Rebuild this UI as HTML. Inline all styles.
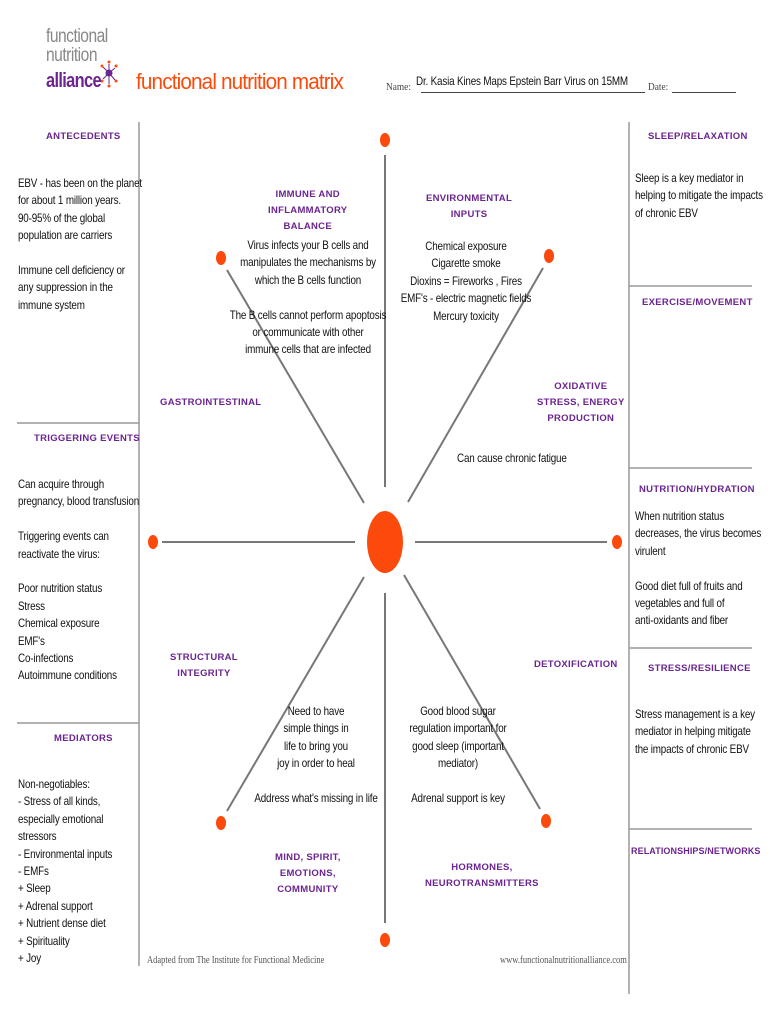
<!DOCTYPE html>
<html><head><meta charset="utf-8"><style>
body{margin:0;width:770px;height:1024px;background:#fff;position:relative;overflow:hidden;font-family:"Liberation Sans",sans-serif;}
.t{position:absolute;font-size:12px;line-height:17.4px;color:#111;white-space:nowrap;letter-spacing:-0.2px;transform:scaleX(0.82);transform-origin:0 0}
.c{text-align:center;transform-origin:50% 0}
.h{position:absolute;color:#6b2490;font-family:"Liberation Sans",sans-serif;font-weight:bold;font-size:9.5px;letter-spacing:0.3px;line-height:16px;white-space:nowrap;text-align:center}
svg{position:absolute;left:0;top:0}
.s{position:absolute;font-family:'Liberation Serif',serif;font-size:11px;color:#444;white-space:nowrap;transform:scaleX(0.85);transform-origin:0 0}
</style></head><body>
<svg width="770" height="1024">
<g stroke="#999" stroke-width="1.5">
<line x1="139" y1="122" x2="139" y2="966"/>
<line x1="629" y1="122" x2="629" y2="994"/>
<line x1="17" y1="423" x2="139" y2="423"/>
<line x1="17" y1="723" x2="139" y2="723"/>
<line x1="629" y1="286" x2="752" y2="286"/>
<line x1="629" y1="468" x2="752" y2="468"/>
<line x1="629" y1="648" x2="752" y2="648"/>
<line x1="629" y1="829" x2="752" y2="829"/>
</g>
<g stroke="#777" stroke-width="2">
<line x1="385" y1="155" x2="385" y2="487"/>
<line x1="385" y1="593" x2="385" y2="923"/>
<line x1="162" y1="542" x2="355" y2="542"/>
<line x1="415" y1="542" x2="607" y2="542"/>
<line x1="227" y1="270" x2="364" y2="503"/>
<line x1="543" y1="268" x2="408" y2="502"/>
<line x1="364" y1="577" x2="227" y2="811"/>
<line x1="404" y1="575" x2="540" y2="809"/>
</g>
<g fill="#fc4a0c">
<ellipse cx="385" cy="542" rx="18" ry="31"/>
<ellipse cx="385" cy="140" rx="5" ry="7"/>
<ellipse cx="385" cy="940" rx="5" ry="7"/>
<ellipse cx="153" cy="542" rx="5" ry="7"/>
<ellipse cx="617" cy="542" rx="5" ry="7"/>
<ellipse cx="221" cy="258" rx="5" ry="7"/>
<ellipse cx="549" cy="256" rx="5" ry="7"/>
<ellipse cx="221" cy="823" rx="5" ry="7"/>
<ellipse cx="546" cy="821" rx="5" ry="7"/>
</g>
<g stroke="#6b2490" stroke-width="1"><line x1="109" y1="73" x2="103" y2="67"/><line x1="109" y1="73" x2="115" y2="68"/><line x1="109" y1="73" x2="103" y2="79"/><line x1="109" y1="73" x2="115" y2="80"/><line x1="109" y1="73" x2="109" y2="64"/><line x1="109" y1="73" x2="109" y2="84"/></g>
<g fill="#fc4a0c"><circle cx="109" cy="62" r="1.5"/><circle cx="116" cy="66" r="1.5"/><circle cx="102" cy="66" r="1.5"/><circle cx="116" cy="81" r="1.5"/><circle cx="102" cy="81" r="1.5"/><circle cx="109" cy="86" r="1.5"/></g>
<circle cx="109" cy="73" r="3.5" fill="#6b2490"/>
</svg>
<div style="position:absolute;left:46px;top:27px;font-size:19px;line-height:19px;color:#888;letter-spacing:-0.6px;transform:scaleX(0.82);transform-origin:0 0">functional<br>nutrition</div>
<div style="position:absolute;left:46px;top:70px;font-size:20px;font-weight:bold;color:#6b2490;letter-spacing:-0.8px;transform:scaleX(0.82);transform-origin:0 0">alliance</div>
<div style="position:absolute;left:136px;top:69px;font-size:22px;color:#fc4a0c;letter-spacing:-0.9px;transform:scaleX(0.94);transform-origin:0 0">functional nutrition matrix</div>
<div class="s" style="left:386px;top:81px">Name:</div>
<div style="position:absolute;left:421px;top:92px;width:224px;border-top:1px solid #444"></div>
<div class="s" style="left:648px;top:81px">Date:</div>
<div style="position:absolute;left:672px;top:92px;width:64px;border-top:1px solid #444"></div>
<div class="t" style="left:416px;top:73px">Dr. Kasia Kines Maps Epstein Barr Virus on 15MM</div>

<div class="h" style="left:46px;top:129px">ANTECEDENTS</div>
<div class="h" style="left:648px;top:129px">SLEEP/RELAXATION</div>
<div class="t" style="left:18px;top:175px">EBV - has been on the planet<br>for about 1 million years.<br>90-95% of the global<br>population are carriers<br><br>Immune cell deficiency or<br>any suppression in the<br>immune system</div>
<div class="t" style="left:635px;top:170px">Sleep is a key mediator in<br>helping to mitigate the impacts<br>of chronic EBV</div>

<div class="h" style="left:268px;top:187px">IMMUNE AND<br>INFLAMMATORY<br>BALANCE</div>
<div class="t c" style="left:208px;top:237px;width:200px">Virus infects your B cells and<br>manipulates the mechanisms by<br>which the B cells function<br><br>The B cells cannot perform apoptosis<br>or communicate with other<br>immune cells that are infected</div>
<div class="h" style="left:426px;top:191px">ENVIRONMENTAL<br>INPUTS</div>
<div class="t c" style="left:386px;top:238px;width:160px">Chemical exposure<br>Cigarette smoke<br>Dioxins = Fireworks , Fires<br>EMF's - electric magnetic fields<br>Mercury toxicity</div>
<div class="h" style="left:642px;top:295px">EXERCISE/MOVEMENT</div>
<div class="h" style="left:160px;top:395px">GASTROINTESTINAL</div>
<div class="h" style="left:537px;top:379px">OXIDATIVE<br>STRESS, ENERGY<br>PRODUCTION</div>
<div class="t" style="left:457px;top:450px">Can cause chronic fatigue</div>
<div class="h" style="left:34px;top:431px">TRIGGERING EVENTS</div>
<div class="t" style="left:18px;top:476px">Can acquire through<br>pregnancy, blood transfusion<br><br>Triggering events can<br>reactivate the virus:<br><br>Poor nutrition status<br>Stress<br>Chemical exposure<br>EMF's<br>Co-infections<br>Autoimmune conditions</div>
<div class="h" style="left:639px;top:482px">NUTRITION/HYDRATION</div>
<div class="t" style="left:635px;top:508px">When nutrition status<br>decreases, the virus becomes<br>virulent<br><br>Good diet full of fruits and<br>vegetables and full of<br>anti-oxidants and fiber</div>
<div class="h" style="left:170px;top:650px">STRUCTURAL<br>INTEGRITY</div>
<div class="h" style="left:534px;top:657px">DETOXIFICATION</div>
<div class="h" style="left:648px;top:661px">STRESS/RESILIENCE</div>
<div class="t" style="left:635px;top:706px">Stress management is a key<br>mediator in helping mitigate<br>the impacts of chronic EBV</div>
<div class="h" style="left:54px;top:731px">MEDIATORS</div>
<div class="t c" style="left:236px;top:703px;width:160px">Need to have<br>simple things in<br>life to bring you<br>joy in order to heal<br><br>Address what's missing in life</div>
<div class="t c" style="left:378px;top:703px;width:160px">Good blood sugar<br>regulation important for<br>good sleep (important<br>mediator)<br><br>Adrenal support is key</div>
<div class="t" style="left:18px;top:776px">Non-negotiables:<br>- Stress of all kinds,<br>especially emotional<br>stressors<br>- Environmental inputs<br>- EMFs<br>+ Sleep<br>+ Adrenal support<br>+ Nutrient dense diet<br>+ Spirituality<br>+ Joy</div>
<div class="h" style="left:631px;top:843px;font-size:9px;letter-spacing:0.1px">RELATIONSHIPS/NETWORKS</div>
<div class="h" style="left:275px;top:850px">MIND, SPIRIT,<br>EMOTIONS,<br>COMMUNITY</div>
<div class="h" style="left:425px;top:860px">HORMONES,<br>NEUROTRANSMITTERS</div>
<div class="s" style="left:147px;top:955px;font-size:10px;color:#555">Adapted from The Institute for Functional Medicine</div>
<div class="s" style="left:500px;top:955px;font-size:10px;color:#555">www.functionalnutritionalliance.com</div>
</body></html>
